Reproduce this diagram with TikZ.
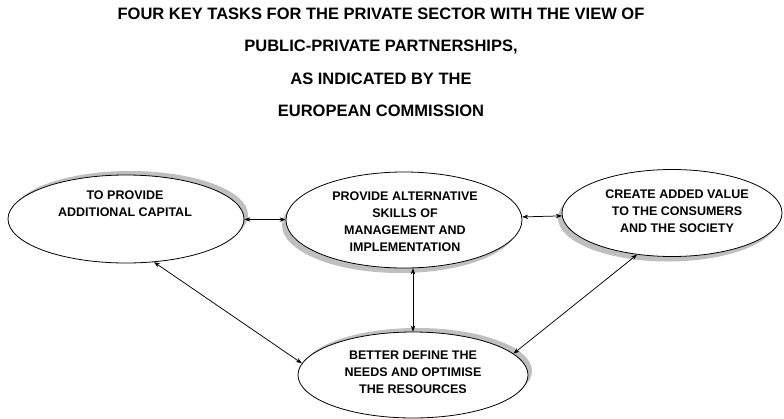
\documentclass[tikz,border=0pt]{standalone}
\usepackage{fontspec}
\setmainfont{Liberation Sans}
\usetikzlibrary{arrows.meta,shapes.geometric,shadows}
\begin{document}
\begin{tikzpicture}[x=1pt,y=-1pt,
  task/.style={ellipse, draw, line width=0.8pt, fill=white, inner sep=0pt},
  shup/.style={drop shadow={shadow xshift=4pt, shadow yshift=4pt, fill=gray!50, opacity=1}},
  shdown/.style={drop shadow={shadow xshift=-4pt, shadow yshift=-5pt, fill=gray!50, opacity=1}},
  lbl/.style={font=\bfseries\fontsize{12.5}{17}\selectfont, align=center, inner sep=0pt, anchor=north},
  link/.style={{Stealth[length=6pt,width=4.5pt]}-{Stealth[length=6pt,width=4.5pt]}, line width=0.75pt}
]
\useasboundingbox (0,0) rectangle (784,418);
\node[font=\bfseries\fontsize{16.5}{32.5}\selectfont, align=center, inner sep=0pt, anchor=north] (title) at (381,7.5)
  {FOUR KEY TASKS FOR THE PRIVATE SECTOR WITH THE VIEW OF\\PUBLIC-PRIVATE PARTNERSHIPS,\\AS INDICATED BY THE\\EUROPEAN COMMISSION};

\node[task, shup, minimum width=236pt, minimum height=88pt] (e1) at (126,219) {};
\node[task, shdown, minimum width=236pt, minimum height=96pt] (e2) at (404,220) {};
\node[task, shdown, minimum width=220pt, minimum height=87pt] (e3) at (672,213) {};
\node[task, shup, minimum width=230pt, minimum height=86pt] (e4) at (413,375) {};

\node[lbl] (t1) at (125,191) {TO PROVIDE\\ADDITIONAL CAPITAL};
\node[lbl] (t2) at (405,192) {PROVIDE ALTERNATIVE\\SKILLS OF\\MANAGEMENT AND\\IMPLEMENTATION};
\node[lbl] (t3) at (677,190) {CREATE ADDED VALUE\\TO THE CONSUMERS\\AND THE SOCIETY};
\node[lbl] (t4) at (413,351) {BETTER DEFINE THE\\NEEDS AND OPTIMISE\\THE RESOURCES};

\draw[link] (e1) -- (e2);
\draw[link] (e2) -- (e3);
\draw[link] (e2.south -| e4.north) -- (e4.north);
\draw[link] (e1.-57) -- (e4.174);
\draw[link] (e3.-130) -- (e4.12);
\end{tikzpicture}
\end{document}
